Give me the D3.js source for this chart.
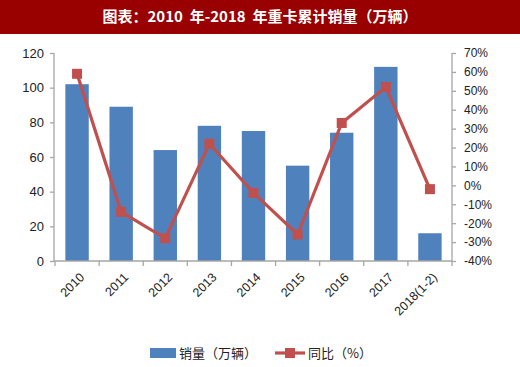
<!DOCTYPE html>
<html>
<head>
<meta charset="utf-8">
<script src="https://cdn.jsdelivr.net/npm/d3@7"></script>
<style>
  body { margin: 0; background: #fff; }
  text { font-family: "Liberation Sans", "Noto Sans CJK SC", sans-serif; }
</style>
</head>
<body>
<div id="chart"></div>
<script>
const categories = ["2010", "2011", "2012", "2013", "2014", "2015", "2016", "2017", "2018(1-2)"];
const sales = [102, 89, 64, 78, 75, 55, 74, 112, 16];
const yoy = [59, -14, -28, 22, -4, -26, 33, 52, -2];
const leftTicks = [0, 20, 40, 60, 80, 100, 120];
const rightTicks = [-40, -30, -20, -10, 0, 10, 20, 30, 40, 50, 60, 70];

const width = 520;
const height = 367;
const barColor = "#4F81BD";
const lineColor = "#C0504D";
const axisColor = "#A6A6A6";

const svg = d3.select("#chart").append("svg")
  .attr("width", width)
  .attr("height", height);

// title band
svg.append("rect").attr("x", 0).attr("y", 0).attr("width", width).attr("height", 34).attr("fill", "#990000");
svg.append("text")
  .attr("x", 260).attr("y", 22)
  .attr("text-anchor", "middle")
  .attr("fill", "#fff")
  .attr("font-size", 15)
  .attr("font-weight", "bold")
  .style("font-family", "'Noto Sans CJK SC', sans-serif")
  .style("white-space", "pre")
  .text("图表：2010  年-2018  年重卡累计销量（万辆）");

const x = d3.scaleBand().domain(categories).range([55, 452]).paddingInner(0.47).paddingOuter(0.235);
const xCenter = d3.scaleBand().domain(categories).range([55, 452]);
const yL = d3.scaleLinear().domain([0, 120]).range([261, 53]);
const yR = d3.scaleLinear().domain([-40, 70]).range([261, 53]);

// bars
svg.append("g").selectAll("rect")
  .data(categories)
  .join("rect")
  .attr("x", d => x(d))
  .attr("y", (d, i) => yL(sales[i]))
  .attr("width", x.bandwidth())
  .attr("height", (d, i) => yL(0) - yL(sales[i]))
  .attr("fill", barColor);

// left axis
const gl = svg.append("g").attr("transform", "translate(54,0)")
  .call(d3.axisLeft(yL).tickValues(leftTicks).tickSize(4).tickPadding(6));
gl.selectAll("path, line").attr("stroke", axisColor).attr("stroke-width", 1.3);
gl.selectAll("text").attr("font-size", 13).attr("fill", "#222");
gl.select(".domain").attr("d", "M0,53V261");

// right axis
const gr = svg.append("g").attr("transform", "translate(452,0)")
  .call(d3.axisRight(yR).tickValues(rightTicks).tickSize(4).tickPadding(8).tickFormat(d => d + "%"));
gr.selectAll("path, line").attr("stroke", axisColor).attr("stroke-width", 1.3);
gr.selectAll("text").attr("font-size", 12).attr("fill", "#222");
gr.select(".domain").attr("d", "M0,53V261");

// x axis
const gx = svg.append("g").attr("transform", "translate(0,261)")
  .call(d3.axisBottom(xCenter).tickSize(0).tickFormat(""));
gx.select(".domain").attr("stroke", axisColor).attr("stroke-width", 1.3).attr("d", "M54,0H452");
gx.selectAll(".xtick")
  .data(d3.range(categories.length + 1))
  .join("line")
  .attr("class", "xtick")
  .attr("x1", i => 55 + i * xCenter.step())
  .attr("x2", i => 55 + i * xCenter.step())
  .attr("y1", 0).attr("y2", 5)
  .attr("stroke", axisColor).attr("stroke-width", 1.3);

svg.append("g").selectAll("text")
  .data(categories)
  .join("text")
  .attr("transform", d => `translate(${xCenter(d) + xCenter.bandwidth() / 2 + 8},${278}) rotate(-45)`)
  .attr("text-anchor", "end")
  .attr("font-size", 12.5)
  .attr("fill", "#222")
  .text(d => d);

// line
const line = d3.line()
  .x((d, i) => xCenter(categories[i]) + xCenter.bandwidth() / 2)
  .y(d => yR(d));
svg.append("path")
  .datum(yoy)
  .attr("d", line)
  .attr("fill", "none")
  .attr("stroke", lineColor)
  .attr("stroke-width", 3.2);
svg.append("g").selectAll("rect")
  .data(yoy)
  .join("rect")
  .attr("x", (d, i) => xCenter(categories[i]) + xCenter.bandwidth() / 2 - 5)
  .attr("y", d => yR(d) - 5)
  .attr("width", 10).attr("height", 10)
  .attr("fill", lineColor);

// legend
const lg = svg.append("g").attr("transform", "translate(0,353)");
lg.append("rect").attr("x", 150).attr("y", -5).attr("width", 26).attr("height", 10).attr("fill", barColor);
lg.append("text").attr("x", 179).attr("y", 5).attr("font-size", 13).attr("fill", "#222")
  .style("font-family", "'Noto Sans CJK SC', sans-serif").text("销量（万辆）");
lg.append("line").attr("x1", 275).attr("x2", 305).attr("y1", 0).attr("y2", 0).attr("stroke", lineColor).attr("stroke-width", 3.2);
lg.append("rect").attr("x", 285).attr("y", -5).attr("width", 10).attr("height", 10).attr("fill", lineColor);
lg.append("text").attr("x", 308).attr("y", 5).attr("font-size", 13).attr("fill", "#222")
  .style("font-family", "'Noto Sans CJK SC', sans-serif").text("同比（%）");
</script>
</body>
</html>
